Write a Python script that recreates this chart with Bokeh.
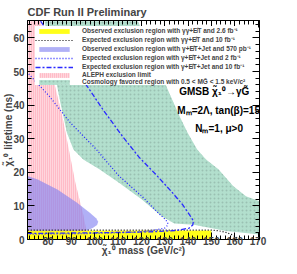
from bokeh.plotting import figure
from bokeh.models import (Range1d, LinearAxis, SingleIntervalTicker, Legend,
                          LegendItem, Label, CustomLabelingPolicy)
from bokeh.embed import file_html
from bokeh.resources import INLINE

# ---------------- data ----------------
x_ticks_major = 10
y_ticks_major = 10

# Cosmology favoured region (0.5 < M_G < 1.5 keV/c^2)
cosmo_x = [78.5, 85.3, 88.1, 90.9, 95.1, 102.0, 110.4, 120.2, 128.5, 134.1, 142.5, 156.3, 171.0,
           171.0, 164.8, 159.3, 153.0, 147.7, 143.9, 139.8, 136.3, 130.1, 118.5]
cosmo_y = [65.0, 40.7, 31.8, 26.8, 23.8, 20.9, 16.9, 11.9, 7.0, 4.8, 4.4, 2.5, 1.5,
           11.3, 12.9, 15.9, 20.9, 23.8, 26.8, 31.8, 36.8, 46.5, 65.0]

# ALEPH exclusion limit
aleph_x = [70.0, 76.8, 83.3, 86.1, 88.9, 91.7, 95.2, 96.6, 97.0, 70.0]
aleph_y = [65.0, 65.0, 44.7, 36.8, 26.8, 16.9, 7.1, 2.0, 0.0, 0.0]

# Observed gamma+MET+Jet 570 pb^-1
obs_gj_x = [70.0, 75.6, 84.0, 92.3, 97.9, 100.6, 101.5, 101.0, 99.3, 96.5, 70.0]
obs_gj_y = [19.2, 17.9, 14.9, 11.0, 8.0, 6.3, 5.3, 4.3, 3.5, 2.6, 2.4]

# Observed gamma-gamma+MET 2.6 fb^-1
obs_gg_x = [70.0, 150.0, 150.0, 70.0]
obs_gg_y = [0.0, 0.0, 2.7, 2.6]

# Expected gamma-gamma+MET 10 fb^-1
exp_gg_x = [70.0, 150.0, 153.0, 156.3, 159.0, 160.5, 161.5]
exp_gg_y = [2.8, 2.8, 2.6, 2.1, 1.4, 0.8, 0.0]

# Expected gamma+MET+Jet 2 fb^-1
exp_gj2_x = [70.0, 80.5, 89.5, 100.7, 110.4, 120.2, 127.1, 130.2, 131.3, 131.2, 130.0,
             125.7, 118.8, 105.0, 90.0, 70.0]
exp_gj2_y = [50.6, 42.7, 34.8, 26.8, 18.9, 12.9, 8.0, 6.0, 5.0, 4.2, 3.4,
             2.8, 2.2, 1.9, 1.7, 1.6]

# Expected gamma+MET+Jet 10 fb^-1
exp_gj10_x = [76.8, 87.0, 97.2, 103.5, 111.8, 119.0, 126.0, 132.7, 137.5, 140.5, 142.3,
              142.0, 140.5, 135.0, 125.0, 100.0, 70.0]
exp_gj10_y = [65.0, 55.0, 45.2, 38.7, 30.8, 24.5, 19.5, 14.4, 10.5, 7.5, 5.5,
              4.3, 3.4, 2.7, 2.3, 2.0, 1.8]

labels = [
    "Observed exclusion region with \u03b3\u03b3+E\u0338T and 2.6 fb\u207b\u00b9",
    "Expected exclusion region with \u03b3\u03b3+E\u0338T and 10 fb\u207b\u00b9",
    "Observed exclusion region with \u03b3+E\u0338T+Jet and 570 pb\u207b\u00b9",
    "Expected exclusion region with \u03b3+E\u0338T+Jet and 2 fb\u207b\u00b9",
    "Expected exclusion region with \u03b3+E\u0338T+Jet and 10 fb\u207b\u00b9",
    "ALEPH exclusion limit",
    "Cosmology favored region with 0.5 < MG\u0303 < 1.5 keV/c\u00b2",
]

FONT = "Liberation Sans"

p = figure(width=281, height=258, output_backend="svg", toolbar_location=None,
           x_range=Range1d(71.2, 170.6), y_range=Range1d(0, 65.2),
           x_axis_location=None, y_axis_location=None,
           min_border_left=20, min_border_right=22, min_border_top=20,
           min_border_bottom=19)
p.xgrid.visible = False
p.ygrid.visible = False
p.outline_line_color = "black"
p.background_fill_color = "white"
p.border_fill_color = "white"

p.title.text = "CDF Run II Preliminary"
p.title.text_font = FONT
p.title.text_font_style = "bold"
p.title.text_font_size = "11px"
p.title.align = "left"
p.title.standoff = 6
p.title.offset = 0


def make_axis(interval, labels_on, label=None, standoff=0, label_standoff=0):
    ax = LinearAxis(ticker=SingleIntervalTicker(interval=interval, num_minor_ticks=5))
    ax.major_tick_in = 7
    ax.major_tick_out = 0
    ax.minor_tick_in = 4
    ax.minor_tick_out = 0
    ax.axis_line_color = "black"
    ax.major_tick_line_color = "black"
    ax.minor_tick_line_color = "black"
    if labels_on:
        ax.major_label_standoff = standoff
        ax.major_label_text_font = FONT
        ax.major_label_text_font_style = "bold"
        ax.major_label_text_font_size = "10px"
        ax.axis_label = label
        ax.axis_label_standoff = label_standoff
        ax.axis_label_text_font = FONT
        ax.axis_label_text_font_style = "bold"
        ax.axis_label_text_font_size = "10px"
    else:
        ax.major_label_standoff = 0
        ax.major_label_text_font_size = "0px"
        ax.major_label_policy = CustomLabelingPolicy(code="return []")
    return ax


p.add_layout(make_axis(x_ticks_major, True, "\u03c7\u0303\u2081\u2070 mass (GeV/c\u00b2)", -3, -3), "below")
p.add_layout(make_axis(y_ticks_major, True, "\u03c7\u0303\u2081\u2070 lifetime (ns)", 3, -4), "left")
p.add_layout(make_axis(x_ticks_major, False), "above")
p.add_layout(make_axis(y_ticks_major, False), "right")

r_cosmo = p.patch(cosmo_x, cosmo_y, fill_color="#b2dfcd", line_color=None,
                  hatch_pattern="dot", hatch_color="#7d9b91", hatch_scale=4, hatch_alpha=0.45)
r_aleph = p.patch(aleph_x, aleph_y, fill_color="#ffd6dd", line_color=None,
                  hatch_pattern="|", hatch_color="#ffa0b0", hatch_scale=2, hatch_weight=1)
r_obs_gj = p.patch(obs_gj_x, obs_gj_y, fill_color="#8080f0", fill_alpha=0.62, line_color=None)
r_obs_gg = p.patch(obs_gg_x, obs_gg_y, fill_color="#ffff00", fill_alpha=0.9, line_color=None)
r_exp_gg = p.line(exp_gg_x, exp_gg_y, line_color="black", line_dash="1 2", line_width=1.2)
r_exp_gj2 = p.line(exp_gj2_x, exp_gj2_y, line_color="#2a2aff", line_dash="1 2", line_width=1.3)
r_exp_gj10 = p.line(exp_gj10_x, exp_gj10_y, line_color="#2a2aff", line_dash="5 2 2 2", line_width=1.3)

renderers = [r_obs_gg, r_exp_gg, r_obs_gj, r_exp_gj2, r_exp_gj10, r_aleph, r_cosmo]
legend = Legend(items=[LegendItem(label=l, renderers=[r]) for l, r in zip(labels, renderers)],
                location=(8, 154), orientation="vertical",
                glyph_width=38, glyph_height=6, label_height=7, label_width=100,
                spacing=0, padding=3, margin=0, label_standoff=9,
                label_text_font=FONT, label_text_font_style="bold",
                label_text_font_size="6.5px", label_text_line_height=1.0,
                border_line_color=None,
                background_fill_color="white", background_fill_alpha=1.0)
p.add_layout(legend, "center")

txt = dict(text_font=FONT, text_font_style="bold", text_color="black",
           text_font_size="10px", text_align="center", text_baseline="middle",
           level="overlay")
p.add_layout(Label(x=151.2, y=44.0, text="GMSB \u03c7\u0303\u2081\u2070\u2192\u03b3G\u0303", **txt))
p.add_layout(Label(x=153.1, y=38.3, text="M\u2098=2\u039b, tan(\u03b2)=15", **txt))
p.add_layout(Label(x=153.3, y=32.9, text="N\u2098=1, \u03bc>0", **txt))

open("out.html", "w").write(file_html(p, INLINE))
